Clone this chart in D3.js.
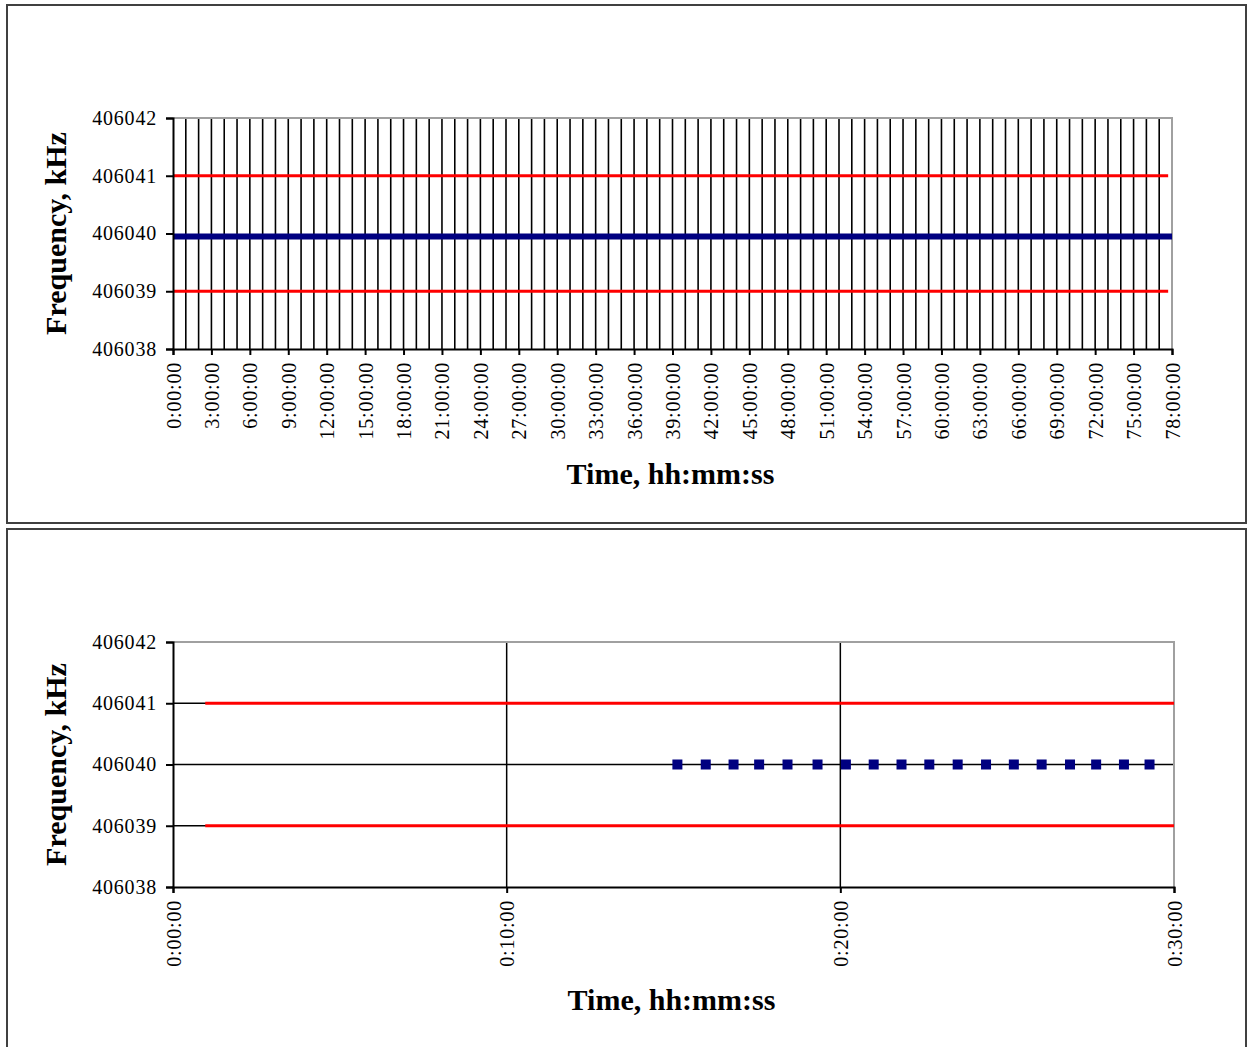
<!DOCTYPE html>
<html>
<head>
<meta charset="utf-8">
<script src="https://cdn.jsdelivr.net/npm/d3@7"></script>
<style>
  html, body { margin: 0; padding: 0; background: #fff; }
  svg { display: block; }
  text { font-family: "Liberation Serif", "Times New Roman", serif; fill: #000; }
</style>
</head>
<body>
<svg id="chart" width="1248" height="1047"></svg>
<script>
// ---- Data ----
// Frequency axis (kHz)
const freqTicks = [406038, 406039, 406040, 406041, 406042];
const freqDomain = [406038, 406042];

// Long run: time in hours
const longTimeDomain = [0, 78];
const longTimeTicks = [0, 3, 6, 9, 12, 15, 18, 21, 24, 27, 30, 33, 36, 39, 42, 45, 48, 51, 54, 57, 60, 63, 66, 69, 72, 75, 78];
const longGridHours = [1, 2, 4, 5, 7, 8, 10, 11, 13, 14, 16, 17, 19, 20, 22, 23, 25, 26, 28, 29, 31, 32, 34, 35, 37, 38,
  40, 41, 43, 44, 46, 47, 49, 50, 52, 53, 55, 56, 58, 59, 61, 62, 64, 65, 67, 68, 70, 71, 73, 74, 76, 77,
  3, 6, 9, 12, 15, 18, 21, 24, 27, 30, 33, 36, 39, 42, 45, 48, 51, 54, 57, 60, 63, 66, 69, 72, 75];
const longMeasured = [[0, 406039.95], [78, 406039.95]];
const longUpperLimit = [[0, 406041], [77.7, 406041]];
const longLowerLimit = [[0, 406039], [77.7, 406039]];

// Short run: time in seconds
const shortTimeDomain = [0, 1800];
const shortTimeTicks = [0, 600, 1200, 1800];
const shortUpperLimit = [[58, 406041], [1800, 406041]];
const shortLowerLimit = [[58, 406039], [1800, 406039]];
const shortMeasuredTimes = [907, 958, 1008, 1054, 1105, 1159, 1210, 1260, 1310, 1360, 1411, 1462, 1512, 1562, 1613, 1660, 1710, 1756];
const shortMeasuredValues = [406040, 406040, 406040, 406040, 406040, 406040, 406040, 406040, 406040,
  406040, 406040, 406040, 406040, 406040, 406040, 406040, 406040, 406040];

const xTitle = "Time, hh:mm:ss";
const yTitle = "Frequency, kHz";

// ---- Drawing ----
const svg = d3.select("#chart");
const NAVY = "#000080", RED = "#ff0000", EDGE = "#a0a0a0";

// panel frames
svg.append("rect").attr("x", 7).attr("y", 5).attr("width", 1239).attr("height", 518)
  .attr("fill", "none").attr("stroke", "#404040").attr("stroke-width", 2);
svg.append("rect").attr("x", 7).attr("y", 529).attr("width", 1239).attr("height", 530)
  .attr("fill", "none").attr("stroke", "#404040").attr("stroke-width", 2);

function panel(cfg) {
  const g = svg.append("g");
  const x = d3.scaleLinear().domain(cfg.xDomain).range([cfg.left, cfg.right]);
  const y = d3.scaleLinear().domain(freqDomain).range([cfg.bottom, cfg.top]);

  // vertical gridlines
  g.append("g").selectAll("line").data(cfg.vGrid).join("line")
    .attr("x1", d => x(d)).attr("x2", d => x(d))
    .attr("y1", cfg.top).attr("y2", cfg.bottom)
    .attr("stroke", "#000").attr("stroke-width", cfg.vGridWidth);

  // horizontal gridlines
  g.append("g").selectAll("line").data(cfg.hGrid).join("line")
    .attr("x1", cfg.left).attr("x2", cfg.right)
    .attr("y1", d => y(d)).attr("y2", d => y(d))
    .attr("stroke", "#000").attr("stroke-width", 1.5);

  // top/right plot edges
  g.append("path")
    .attr("d", `M${cfg.left},${y(freqDomain[1])}H${cfg.right}V${cfg.bottom}`)
    .attr("fill", "none").attr("stroke", EDGE).attr("stroke-width", 2);

  // limit lines and measured series
  const line = d3.line().x(d => x(d[0])).y(d => y(d[1]));
  cfg.limits.forEach(l => {
    g.append("path").datum(l).attr("d", line)
      .attr("fill", "none").attr("stroke", RED).attr("stroke-width", 3);
  });
  if (cfg.measuredLine) {
    g.append("path").datum(cfg.measuredLine).attr("d", line)
      .attr("fill", "none").attr("stroke", NAVY).attr("stroke-width", 6);
  }
  if (cfg.markers) {
    g.append("g").selectAll("rect").data(cfg.markers).join("rect")
      .attr("x", d => x(d[0]) - 5).attr("y", d => y(d[1]) - 5)
      .attr("width", 10).attr("height", 10).attr("fill", NAVY);
  }

  // axes
  const yAxis = d3.axisLeft(y).tickValues(freqTicks).tickSize(7).tickPadding(9)
    .tickFormat(d3.format("d"));
  const ya = g.append("g").attr("transform", `translate(${cfg.left},0)`).call(yAxis);
  const xAxis = d3.axisBottom(x).tickValues(cfg.xTicks).tickSize(6).tickFormat(cfg.fmt);
  const xa = g.append("g").attr("transform", `translate(0,${cfg.bottom})`).call(xAxis);
  [ya, xa].forEach(a => {
    a.attr("font-family", null);
    a.select(".domain").attr("stroke", "#000").attr("stroke-width", 2);
    a.selectAll(".tick line").attr("stroke", "#000").attr("stroke-width", 2);
    a.selectAll("text").attr("font-size", 20)
      .attr("fill", "#000").attr("letter-spacing", 0.8);
  });
  xa.selectAll(".tick text")
    .attr("transform", "rotate(-90)")
    .attr("text-anchor", "end")
    .attr("dominant-baseline", "central")
    .attr("x", -13).attr("y", 0).attr("dy", null);

  // axis titles
  g.append("text").attr("x", (cfg.left + cfg.right) / 2 - 2).attr("y", cfg.xTitleY)
    .attr("text-anchor", "middle").attr("font-size", 30).attr("font-weight", "bold")
    .text(xTitle);
  g.append("text")
    .attr("transform", `translate(66,${(cfg.top + cfg.bottom) / 2}) rotate(-90)`)
    .attr("text-anchor", "middle").attr("font-size", 30).attr("font-weight", "bold")
    .text(yTitle);
}

const hourFmt = h => `${h}:00:00`;
const minFmt = s => `0:${String(Math.round(s / 60)).padStart(2, "0")}:00`;

panel({
  left: 173, right: 1172, top: 118, bottom: 349,
  xDomain: longTimeDomain, xTicks: longTimeTicks, fmt: hourFmt,
  vGrid: longGridHours, vGridWidth: 1.6, hGrid: [],
  limits: [longUpperLimit, longLowerLimit],
  measuredLine: longMeasured,
  xTitleY: 484
});

panel({
  left: 173, right: 1174, top: 642, bottom: 887,
  xDomain: shortTimeDomain, xTicks: shortTimeTicks, fmt: minFmt,
  vGrid: [600, 1200], vGridWidth: 1.5, hGrid: [406039, 406040, 406041],
  limits: [shortUpperLimit, shortLowerLimit],
  markers: shortMeasuredTimes.map((t, i) => [t, shortMeasuredValues[i]]),
  xTitleY: 1010
});
</script>
</body>
</html>
